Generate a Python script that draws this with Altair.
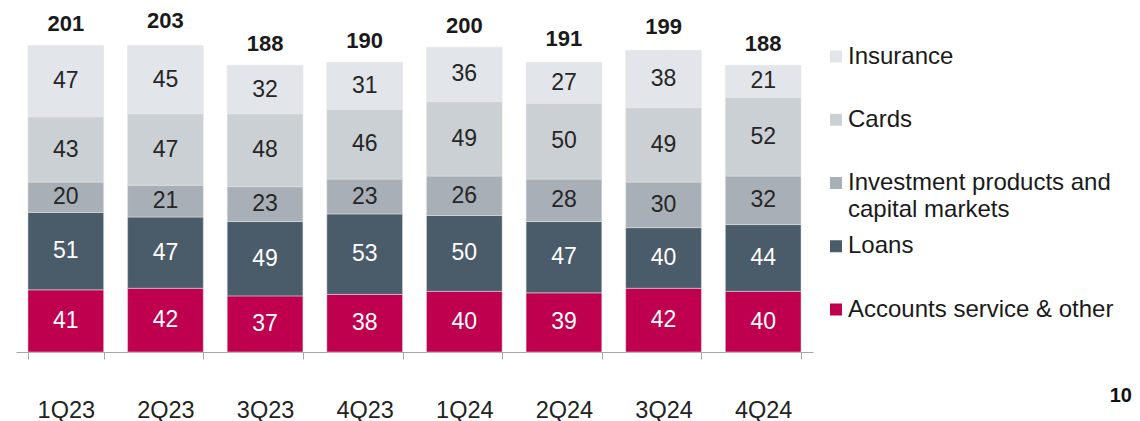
import altair as alt
import pandas as pd

# ---------------- data ----------------
quarters = ["1Q23", "2Q23", "3Q23", "4Q23", "1Q24", "2Q24", "3Q24", "4Q24"]
segments = ["Accounts service & other", "Loans",
            "Investment products and capital markets", "Cards", "Insurance"]
accounts = [41, 42, 37, 38, 40, 39, 42, 40]
loans = [51, 47, 49, 53, 50, 47, 40, 44]
investment = [20, 21, 23, 23, 26, 28, 30, 32]
cards = [43, 47, 48, 46, 49, 50, 49, 52]
insurance = [47, 45, 32, 31, 36, 27, 38, 21]
totals = [201, 203, 188, 190, 200, 191, 199, 188]

seg_colors = ["#BE004F", "#4A5B6A", "#A8AFB7", "#CBD0D4", "#E2E5E9"]
label_colors = ["#FFFFFF", "#FFFFFF", "#262626", "#262626", "#262626"]

legend_order = ["Insurance", "Cards", "Investment products and capital markets",
                "Loans", "Accounts service & other"]
legend_line1 = ["Insurance", "Cards", "Investment products and", "Loans",
                "Accounts service & other"]
legend_line2 = ["", "", "capital markets", "", ""]
legend_colors = ["#E2E5E9", "#CBD0D4", "#A8AFB7", "#4A5B6A", "#BE004F"]
page_number = ["10"]

# ---------------- tables ----------------
series = [accounts, loans, investment, cards, insurance]
rows = []
for i, q in enumerate(quarters):
    for j, s in enumerate(segments):
        rows.append(dict(quarter=q, segment=s, idx=j, value=series[j][i],
                         color=seg_colors[j], tcolor=label_colors[j]))
df = pd.DataFrame(rows)
tot_df = pd.DataFrame({"quarter": quarters, "total": totals})
leg_df = pd.DataFrame({"pos": list(range(len(legend_order))), "cat": legend_order,
                       "line1": legend_line1, "line2": legend_line2,
                       "color": legend_colors})
pn_df = pd.DataFrame({"t": page_number})

FONT = "Liberation Sans"
W, H = 797, 344
Y_MAX = 226.8

xenc = alt.X("quarter:N", sort=quarters,
             scale=alt.Scale(paddingInner=0.24, paddingOuter=0.12),
             axis=alt.Axis(title=None, labelAngle=0, labelFontSize=23.5, labelFont=FONT,
                           labelColor="#222222", labelPadding=39, tickSize=7,
                           tickBand="extent", domainColor="#A6A6A6", tickColor="#A6A6A6",
                           domainWidth=1, tickWidth=1, grid=False))
yscale = alt.Scale(domain=[0, Y_MAX], nice=False, zero=True)

base = alt.Chart(df).transform_stack(
    stack="value", groupby=["quarter"],
    sort=[alt.SortField(field="idx", order="ascending")],
    as_=["y0", "y1"]
).transform_calculate(mid="(datum.y0 + datum.y1) / 2")

bars = base.mark_bar(stroke="#E4E4E4", strokeWidth=0.5).encode(
    x=xenc,
    y=alt.Y("y0:Q", scale=yscale, axis=None),
    y2="y1:Q",
    color=alt.Color("color:N", scale=None),
)
vals = base.mark_text(font=FONT, fontSize=23, baseline="middle").encode(
    x=xenc,
    y=alt.Y("mid:Q", scale=yscale, axis=None),
    text="value:Q",
    color=alt.Color("tcolor:N", scale=None),
)
tots = alt.Chart(tot_df).mark_text(font=FONT, fontSize=22, fontWeight="bold",
                                   baseline="alphabetic", dy=-16, color="#1A1A1A").encode(
    x=xenc,
    y=alt.Y("total:Q", scale=yscale, axis=None),
    text="total:Q",
)
main = alt.layer(bars, vals, tots)

lscale = alt.Scale(domain=[0, len(legend_order) - 1], range=[48.5, 301.5], nice=False, zero=False)
ly = alt.Y("pos:Q", scale=lscale, axis=None)
sq = alt.Chart(leg_df).mark_square(size=144, opacity=1, filled=True).encode(
    x=alt.value(820), y=ly, color=alt.Color("color:N", scale=None))
t1 = alt.Chart(leg_df).mark_text(align="left", baseline="middle", font=FONT, fontSize=24,
                                 color="#1A1A1A").encode(
    x=alt.value(832), y=ly, text="line1:N")
t2 = alt.Chart(leg_df).mark_text(align="left", baseline="middle", font=FONT, fontSize=24,
                                 color="#1A1A1A", dy=27).encode(
    x=alt.value(832), y=ly, text="line2:N")
pn = alt.Chart(pn_df).mark_text(align="right", baseline="middle", font=FONT, fontSize=20,
                                fontWeight="bold", color="#111111").encode(
    x=alt.value(1116), y=alt.value(388), text="t:N")
legend = alt.layer(sq, t1, t2, pn)

chart = alt.layer(main, legend).resolve_scale(y="independent").properties(
    width=W, height=H,
    padding={"left": 8, "top": 0, "right": 0, "bottom": 0},
).configure_view(stroke=None)

chart.save("out.html", embed_options={"renderer": "svg", "actions": False})
